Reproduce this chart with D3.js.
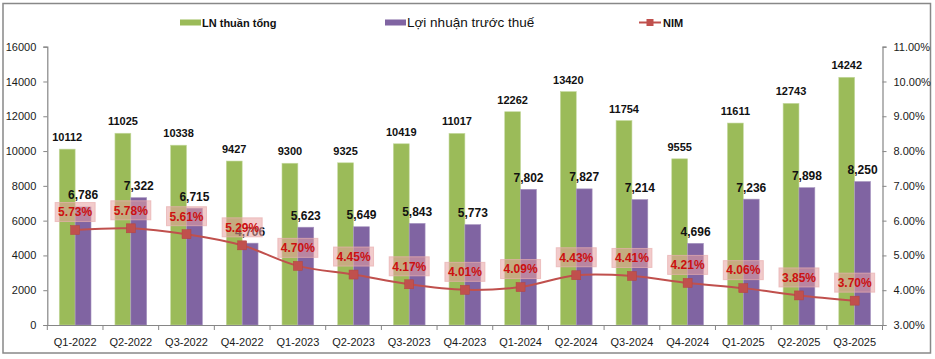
<!DOCTYPE html>
<html><head><meta charset="utf-8">
<script src="https://cdn.jsdelivr.net/npm/d3@7"></script>
<style>body{margin:0;background:#fff}svg{display:block}text{font-family:"Liberation Sans",Arial,sans-serif}</style>
</head><body><svg id="c" width="935" height="359"></svg>
<script>
const categories=["Q1-2022","Q2-2022","Q3-2022","Q4-2022","Q1-2023","Q2-2023","Q3-2023","Q4-2023","Q1-2024","Q2-2024","Q3-2024","Q4-2024","Q1-2025","Q2-2025","Q3-2025"];
const lnThuanTong=[10112,11025,10338,9427,9300,9325,10419,11017,12262,13420,11754,9555,11611,12743,14242];
const loiNhuanTruocThue=[6786,7322,6715,4706,5623,5649,5843,5773,7802,7827,7214,4696,7236,7898,8250];
const nim=[5.73,5.78,5.61,5.29,4.70,4.45,4.17,4.01,4.09,4.43,4.41,4.21,4.06,3.85,3.70];
const leftTicks=[0,2000,4000,6000,8000,10000,12000,14000,16000];
const rightTicks=[3,4,5,6,7,8,9,10,11];
const seriesNames=["LN thuần tổng","Lợi nhuận trước thuế","NIM"];

const GREEN="#9bbb59",PURPLE="#8064a2",RED="#c0504d",AX="#868686";
const svg=d3.select("#c");
svg.append("rect").attr("x",3).attr("y",3.5).attr("width",927.5).attr("height",349.5).attr("fill","none").attr("stroke","#888").attr("stroke-width",1.5);

const L=47.3,R=882.5,T=46.7,B=325;
const x=d3.scaleBand().domain(categories).range([L,R]).paddingInner(0).paddingOuter(0);
const bw=x.bandwidth();
const barW=bw*0.285;
const y=d3.scaleLinear().domain([0,16000]).range([B,T]);
const y2=d3.scaleLinear().domain([3,11]).range([B,T]);

const g=svg.append("g");
g.selectAll(".g").data(lnThuanTong).join("rect")
 .attr("x",(d,i)=>x(categories[i])+bw/2-barW).attr("y",d=>y(d)).attr("width",barW).attr("height",d=>B-y(d))
 .attr("fill",GREEN).attr("stroke","#c5d9a0").attr("stroke-width",0.6);
g.selectAll(".p").data(loiNhuanTruocThue).join("rect")
 .attr("x",(d,i)=>x(categories[i])+bw/2).attr("y",d=>y(d)).attr("width",barW).attr("height",d=>B-y(d))
 .attr("fill",PURPLE).attr("stroke","#a897c0").attr("stroke-width",0.6);

const axL=svg.append("g").attr("transform",`translate(${L},0)`).call(d3.axisLeft(y).tickValues(leftTicks).tickSize(4).tickPadding(7).tickFormat(d=>d));
const axR=svg.append("g").attr("transform",`translate(${R},0)`).call(d3.axisRight(y2).tickValues(rightTicks).tickSize(4).tickPadding(7).tickFormat(d=>d.toFixed(2)+"%"));
const axB=svg.append("g").attr("transform",`translate(0,${B})`).call(d3.axisBottom(x).tickSize(0).tickPadding(13));
[axL,axR,axB].forEach(a=>{a.select(".domain").attr("stroke",AX).attr("stroke-width",1.2);a.selectAll("line").attr("stroke",AX);a.selectAll("text").attr("fill","#1a1a1a").style("font-size","11px").style("font-family","'Liberation Sans',Arial,sans-serif");});
const bounds=categories.map(c=>x(c)).concat([R]);
svg.append("g").selectAll("line").data(bounds).join("line").attr("x1",d=>d).attr("x2",d=>d).attr("y1",B).attr("y2",B+5).attr("stroke",AX);

svg.append("g").selectAll("text").data(lnThuanTong).join("text")
 .attr("x",(d,i)=>x(categories[i])+bw/2-barW/2).attr("y",d=>y(d)-8).attr("text-anchor","middle")
 .style("font-size","11px").style("font-weight","bold").attr("fill","#111").text(d=>d);
svg.append("g").selectAll("text").data(loiNhuanTruocThue).join("text")
 .attr("x",(d,i)=>x(categories[i])+bw/2+barW/2).attr("y",d=>y(d)-7.5).attr("text-anchor","middle")
 .style("font-size","12px").style("font-weight","bold").attr("fill","#111").text(d=>d3.format(",")(d));

const pts=nim.map((v,i)=>[x(categories[i])+bw/2,y2(v)]);
svg.append("path").attr("d",d3.line().curve(d3.curveCatmullRom.alpha(0.5))(pts)).attr("fill","none").attr("stroke",RED).attr("stroke-width",2);
svg.append("g").selectAll("rect").data(pts).join("rect").attr("x",d=>d[0]-4.5).attr("y",d=>d[1]-4.5).attr("width",9).attr("height",9).attr("fill",RED).attr("stroke","#b5433f").attr("stroke-width",0.5);

const nl=svg.append("g").selectAll("g").data(nim).join("g").attr("transform",(d,i)=>`translate(${pts[i][0]},${pts[i][1]-18})`);
nl.append("rect").attr("x",-20).attr("y",-9.5).attr("width",40).attr("height",19).attr("fill","rgba(232,160,160,0.55)").attr("stroke","rgba(232,175,175,0.7)").attr("stroke-width",1);
nl.append("text").attr("text-anchor","middle").attr("y",4.3).style("font-size","12px").style("font-weight","bold").attr("fill","#cc1010").text(d=>d.toFixed(2)+"%");

const lg=svg.append("g");
lg.append("rect").attr("x",180).attr("y",19.5).attr("width",21).attr("height",6).attr("fill",GREEN);
lg.append("text").attr("x",202).attr("y",27).style("font-size","11px").style("font-weight","bold").attr("fill","#111").text(seriesNames[0]);
lg.append("rect").attr("x",385).attr("y",19.5).attr("width",21).attr("height",6).attr("fill",PURPLE);
lg.append("text").attr("x",407).attr("y",26.5).style("font-size","13.5px").attr("fill","#111").text(seriesNames[1]);
lg.append("line").attr("x1",639).attr("x2",661).attr("y1",22.5).attr("y2",22.5).attr("stroke",RED).attr("stroke-width",2);
lg.append("rect").attr("x",646.5).attr("y",19).attr("width",7).attr("height",7).attr("fill",RED);
lg.append("text").attr("x",663).attr("y",27).style("font-size","11px").style("font-weight","bold").attr("fill","#111").text(seriesNames[2]);
</script></body></html>
